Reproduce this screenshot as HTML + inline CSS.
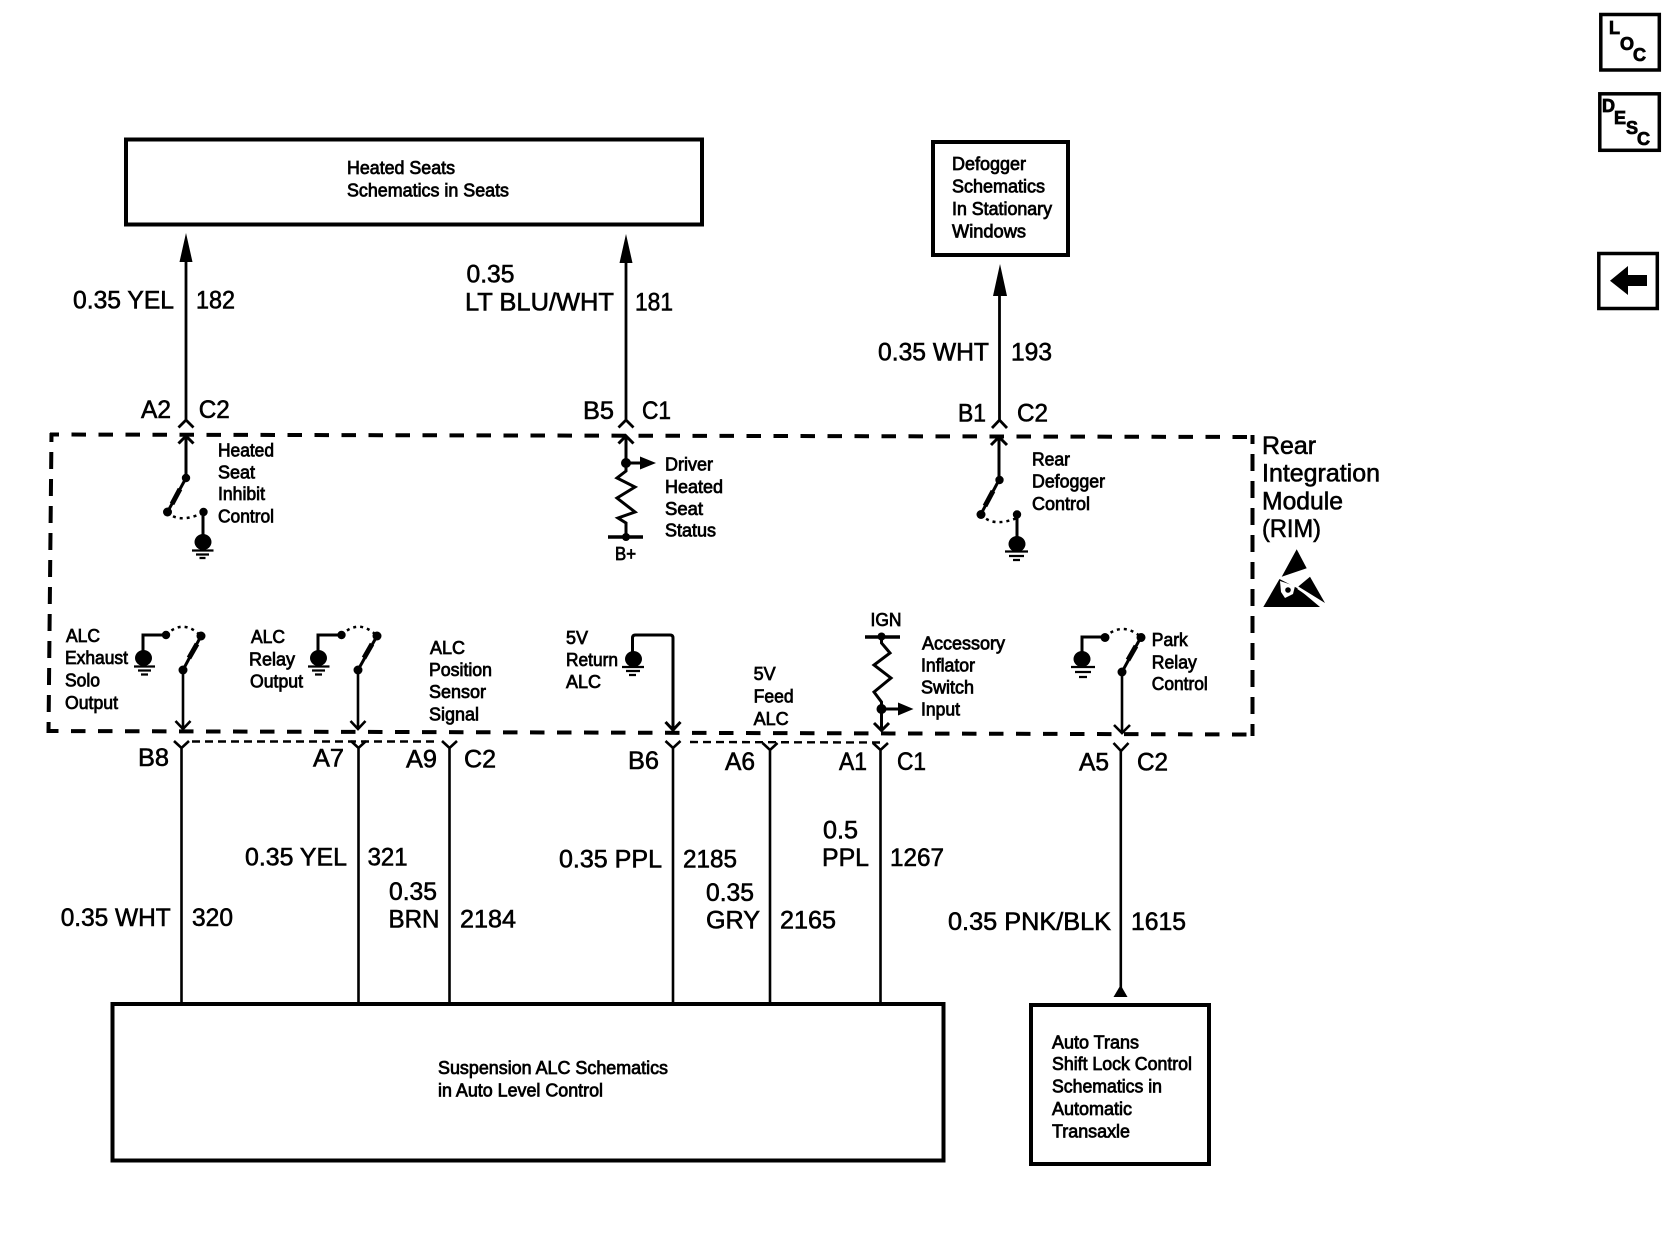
<!DOCTYPE html>
<html>
<head>
<meta charset="utf-8">
<style>
html,body{margin:0;padding:0;background:#fff;}
svg{display:block;}
text{font-family:"Liberation Sans",Arial,sans-serif;fill:#000;stroke:#000;}
.s{font-size:18px;stroke-width:.75;}
.b{font-size:25px;stroke-width:.6;}
.i{font-size:18px;font-weight:bold;stroke-width:.8;}
</style>
</head>
<body>
<svg xmlns="http://www.w3.org/2000/svg" width="1670" height="1248" viewBox="0 0 1670 1248">
<rect width="1670" height="1248" fill="#fff"/>

<!-- boxes -->
<g fill="none" stroke="#000" stroke-width="4">
<rect x="126" y="139.500" width="576" height="85"/>
<rect x="933" y="142" width="135" height="113"/>
<rect x="112.500" y="1004" width="831" height="156.500"/>
<rect x="1031" y="1005" width="178" height="159"/>
</g>

<!-- RIM dashed outline -->
<g fill="none" stroke="#000" stroke-width="4">
<path d="M50 434.500L1253 437" stroke-dasharray="14.500 12.500" stroke-dashoffset="5.500"/>
<path d="M49 731L1253 734.500" stroke-dasharray="14.500 12.500" stroke-dashoffset="5"/>
<path d="M51.500 433L48.500 733" stroke-dasharray="17 10" stroke-dashoffset="8"/>
<path d="M1252.500 435L1252.500 736" stroke-dasharray="17 10" stroke-dashoffset="8"/>
</g>
<g fill="none" stroke="#000" stroke-width="2.400" stroke-dasharray="8 5">
<path d="M192 741.500L436 741.500"/>
<path d="M690 742L880 742.500"/>
</g>

<!-- upper wires -->
<g fill="none" stroke="#000" stroke-width="2.800">
<path d="M186 258V421M178.500 427.500L186 420L193.500 427.500"/>
<path d="M626 259V421M618.500 427.500L626 420L633.500 427.500"/>
<path d="M999.500 292V421M992 428L999.500 420L1007 428"/>
</g>
<g fill="#000">
<path d="M186 233L179.500 262H192.500Z"/>
<path d="M626 234L619.500 263H632.500Z"/>
<path d="M1000 264L993 296H1007Z"/>
<path d="M1120.600 985L1113.500 997H1127.500Z"/>
</g>

<!-- lower wires -->
<g fill="none" stroke="#000" stroke-width="2.600">
<path d="M181.500 1003V747M174 741L181.500 748L189 741"/>
<path d="M358.500 1003V747M351 741L358.500 748L366 741"/>
<path d="M449.500 1003V747M442 741L449.500 748L457 741"/>
<path d="M673 1003V747M665.500 741L673 748L680.500 741"/>
<path d="M770 1003V749M762.500 743L770 750L777.500 743"/>
<path d="M880.500 1003V749M873 743L880.500 750L888 743"/>
<path d="M1120.800 990V750M1113.500 743L1121 751L1128.500 743"/>
</g>

<!-- Heated seat inhibit switch -->
<g fill="none" stroke="#000" stroke-width="3">
<path d="M186 478V437M178.500 443.500L186 436L193.500 443.500"/>
<path d="M186 478L167.500 512"/>
<path d="M180 489L172 504" stroke-width="5"/>
<path d="M203 512V537"/>
<path d="M192 550.500H213.500M196 554.500H209M199.500 558H205.500" stroke-width="2.200"/>
<path d="M167.500 512Q178 524 203 513" stroke-width="2.500" stroke-dasharray="3 4"/>
</g>
<g fill="#000">
<circle cx="186" cy="478" r="4.200"/><circle cx="167.500" cy="512" r="4.500"/><circle cx="203.500" cy="512" r="4.200"/>
<ellipse cx="203" cy="542" rx="8.500" ry="8"/>
</g>

<!-- Driver heated seat status -->
<g fill="none" stroke="#000" stroke-width="3">
<path d="M626 463V437M618.500 443.500L626 436L633.500 443.500"/>
<path d="M626 463V471L617 478L635 487L617 498L635 512L618 518L626 523V537"/>
<path d="M608 537H643" stroke-width="3.500"/>
<path d="M626 463H642"/>
</g>
<path d="M656 463L640 456.500V469.500Z" fill="#000"/>
<circle cx="626" cy="463" r="5" fill="#000"/><circle cx="626" cy="537" r="4" fill="#000"/>

<!-- Rear defogger control -->
<g fill="none" stroke="#000" stroke-width="3">
<path d="M999 480V438M991 445L999 437L1007 445"/>
<path d="M999 480L981 514"/>
<path d="M993 491L985 506" stroke-width="5"/>
<path d="M1017 514V539"/>
<path d="M1005 551.500H1028M1009 556H1024M1013 560H1020" stroke-width="2.200"/>
<path d="M981 514Q992 528 1017 518" stroke-width="2.500" stroke-dasharray="3 4"/>
</g>
<g fill="#000">
<circle cx="999.500" cy="480" r="4.200"/><circle cx="981" cy="514.500" r="4.500"/><circle cx="1017" cy="514.500" r="4.200"/>
<ellipse cx="1017" cy="544" rx="8.500" ry="8"/>
</g>

<!-- ALC exhaust -->
<g fill="none" stroke="#000" stroke-width="3">
<path d="M183 670V729M175.500 721L183 729L190.500 721" stroke-width="2.600"/>
<path d="M183 670L201 636"/>
<path d="M189 658L197 644" stroke-width="5"/>
<path d="M166 635H143V655"/>
<path d="M134 666.500H155M138 670.500H151M141 674.500H148" stroke-width="2.200"/>
<path d="M166 635Q183 618 201 636" stroke-width="2.500" stroke-dasharray="3 4"/>
</g>
<g fill="#000">
<circle cx="183" cy="670" r="4.500"/><circle cx="201" cy="636" r="4.500"/><circle cx="166" cy="635" r="4.200"/>
<ellipse cx="143.500" cy="658" rx="8.500" ry="8"/>
</g>

<!-- ALC relay -->
<g fill="none" stroke="#000" stroke-width="3">
<path d="M358 670V729M350.500 721L358 729L365.500 721" stroke-width="2.600"/>
<path d="M358 670L377 636"/>
<path d="M364 658L372 644" stroke-width="5"/>
<path d="M341.500 635H318V655"/>
<path d="M308 666.500H329.500M312 670.500H325M315 674.500H322" stroke-width="2.200"/>
<path d="M341.500 635Q359 618 377 636" stroke-width="2.500" stroke-dasharray="3 4"/>
</g>
<g fill="#000">
<circle cx="358" cy="670" r="4.500"/><circle cx="377" cy="636" r="4.500"/><circle cx="341.500" cy="635" r="4.200"/>
<ellipse cx="318.500" cy="658" rx="8.500" ry="8"/>
</g>

<!-- 5V return -->
<g fill="none" stroke="#000" stroke-width="3">
<path d="M632.500 655V638Q632.500 635 635.500 635H670Q673 635 673 638V731M665.500 722L673 730L680.500 722"/>
<path d="M622 667H644M626 671H640M629 675H636" stroke-width="2.200"/>
</g>
<ellipse cx="633.500" cy="659" rx="8.500" ry="8" fill="#000"/>

<!-- Accessory inflator -->
<g fill="none" stroke="#000" stroke-width="3">
<path d="M881.500 637V643L890 653L874 665L891 678L874 692L881.500 702V731M874 723L881.500 730.500L889 723"/>
<path d="M865 637H900" stroke-width="3.500"/>
<path d="M881.500 709H899"/>
</g>
<path d="M913.500 709L898 702.500V715.500Z" fill="#000"/>
<circle cx="881.500" cy="636.500" r="4" fill="#000"/><circle cx="881.500" cy="709" r="5" fill="#000"/>

<!-- Park relay -->
<g fill="none" stroke="#000" stroke-width="3">
<path d="M1122 672V733M1114 725L1122 733L1130 725" stroke-width="2.600"/>
<path d="M1122 672L1141 637"/>
<path d="M1128 660L1136 646" stroke-width="5"/>
<path d="M1105 637H1082V655"/>
<path d="M1071 667H1095M1075 672H1091M1079 677H1087" stroke-width="2.200"/>
<path d="M1105 637Q1122 621 1141 637" stroke-width="2.500" stroke-dasharray="3 4"/>
</g>
<g fill="#000">
<circle cx="1122" cy="672" r="4.500"/><circle cx="1141" cy="637.500" r="4.500"/><circle cx="1105" cy="637.500" r="4.500"/>
<ellipse cx="1082" cy="659" rx="8.500" ry="8"/>
</g>

<!-- ESD symbol -->
<g>
<path d="M1296.700 549.300L1306.700 568.300L1281.700 576.700Z" fill="#000"/>
<path d="M1263.300 607L1279.500 579L1298 588.500L1320 607Z" fill="#000"/>
<path d="M1310 576.700L1325 603L1298.300 586.500Z" fill="#000"/>
<path d="M1298 588L1323 605" stroke="#fff" stroke-width="2.500"/>
<path d="M1280 581L1295 586L1293 594L1285 598L1281 592Z" fill="#fff"/>
<circle cx="1288" cy="590" r="2.800" fill="#000"/>
</g>

<!-- small text -->
<g>
<text class="s" x="347" y="174" textLength="108" lengthAdjust="spacingAndGlyphs">Heated Seats</text>
<text class="s" x="347" y="196.700" textLength="162" lengthAdjust="spacingAndGlyphs">Schematics in Seats</text>
<text class="s" x="952" y="170" textLength="74" lengthAdjust="spacingAndGlyphs">Defogger</text>
<text class="s" x="952" y="192.700" textLength="93" lengthAdjust="spacingAndGlyphs">Schematics</text>
<text class="s" x="952" y="215" textLength="100" lengthAdjust="spacingAndGlyphs">In Stationary</text>
<text class="s" x="952" y="237.300" textLength="74" lengthAdjust="spacingAndGlyphs">Windows</text>

<text class="s" x="218" y="456.700" textLength="56" lengthAdjust="spacingAndGlyphs">Heated</text>
<text class="s" x="218" y="478.300" textLength="37" lengthAdjust="spacingAndGlyphs">Seat</text>
<text class="s" x="218" y="500" textLength="47" lengthAdjust="spacingAndGlyphs">Inhibit</text>
<text class="s" x="218" y="522.300" textLength="56" lengthAdjust="spacingAndGlyphs">Control</text>

<text class="s" x="665" y="470.700" textLength="48" lengthAdjust="spacingAndGlyphs">Driver</text>
<text class="s" x="665" y="493" textLength="58" lengthAdjust="spacingAndGlyphs">Heated</text>
<text class="s" x="665" y="515" textLength="38" lengthAdjust="spacingAndGlyphs">Seat</text>
<text class="s" x="665" y="536.700" textLength="51" lengthAdjust="spacingAndGlyphs">Status</text>
<text class="s" x="615" y="560" textLength="21" lengthAdjust="spacingAndGlyphs">B+</text>

<text class="s" x="1032" y="465.700" textLength="38" lengthAdjust="spacingAndGlyphs">Rear</text>
<text class="s" x="1032" y="487.700" textLength="73" lengthAdjust="spacingAndGlyphs">Defogger</text>
<text class="s" x="1032" y="510" textLength="58" lengthAdjust="spacingAndGlyphs">Control</text>

<text class="s" x="66" y="642" textLength="34" lengthAdjust="spacingAndGlyphs">ALC</text>
<text class="s" x="65" y="664" textLength="63" lengthAdjust="spacingAndGlyphs">Exhaust</text>
<text class="s" x="65" y="686.700" textLength="35" lengthAdjust="spacingAndGlyphs">Solo</text>
<text class="s" x="65" y="709" textLength="53" lengthAdjust="spacingAndGlyphs">Output</text>

<text class="s" x="251" y="643" textLength="34" lengthAdjust="spacingAndGlyphs">ALC</text>
<text class="s" x="249" y="665.700" textLength="46" lengthAdjust="spacingAndGlyphs">Relay</text>
<text class="s" x="250" y="687.700" textLength="53" lengthAdjust="spacingAndGlyphs">Output</text>

<text class="s" x="430" y="654" textLength="35" lengthAdjust="spacingAndGlyphs">ALC</text>
<text class="s" x="429" y="676" textLength="63" lengthAdjust="spacingAndGlyphs">Position</text>
<text class="s" x="429" y="698" textLength="57" lengthAdjust="spacingAndGlyphs">Sensor</text>
<text class="s" x="429" y="720.700" textLength="50" lengthAdjust="spacingAndGlyphs">Signal</text>

<text class="s" x="566" y="644" textLength="22" lengthAdjust="spacingAndGlyphs">5V</text>
<text class="s" x="566" y="666" textLength="52" lengthAdjust="spacingAndGlyphs">Return</text>
<text class="s" x="566" y="688" textLength="35" lengthAdjust="spacingAndGlyphs">ALC</text>

<text class="s" x="753.600" y="680" textLength="22" lengthAdjust="spacingAndGlyphs">5V</text>
<text class="s" x="753.600" y="702.700" textLength="40" lengthAdjust="spacingAndGlyphs">Feed</text>
<text class="s" x="753.600" y="725" textLength="35" lengthAdjust="spacingAndGlyphs">ALC</text>

<text class="s" x="870.500" y="626" textLength="31" lengthAdjust="spacingAndGlyphs">IGN</text>
<text class="s" x="922" y="649.300" textLength="83" lengthAdjust="spacingAndGlyphs">Accessory</text>
<text class="s" x="921" y="671.700" textLength="54" lengthAdjust="spacingAndGlyphs">Inflator</text>
<text class="s" x="921" y="693.300" textLength="53" lengthAdjust="spacingAndGlyphs">Switch</text>
<text class="s" x="921" y="715.700" textLength="39" lengthAdjust="spacingAndGlyphs">Input</text>

<text class="s" x="1151.800" y="646" textLength="36" lengthAdjust="spacingAndGlyphs">Park</text>
<text class="s" x="1151.800" y="668.300" textLength="45" lengthAdjust="spacingAndGlyphs">Relay</text>
<text class="s" x="1151.800" y="690" textLength="56" lengthAdjust="spacingAndGlyphs">Control</text>

<text class="s" x="438" y="1074" textLength="230" lengthAdjust="spacingAndGlyphs">Suspension ALC Schematics</text>
<text class="s" x="438" y="1096.700" textLength="165" lengthAdjust="spacingAndGlyphs">in Auto Level Control</text>

<text class="s" x="1052" y="1048.300" textLength="87" lengthAdjust="spacingAndGlyphs">Auto Trans</text>
<text class="s" x="1052" y="1070" textLength="140" lengthAdjust="spacingAndGlyphs">Shift Lock Control</text>
<text class="s" x="1052" y="1092.700" textLength="110" lengthAdjust="spacingAndGlyphs">Schematics in</text>
<text class="s" x="1052" y="1115" textLength="80" lengthAdjust="spacingAndGlyphs">Automatic</text>
<text class="s" x="1052" y="1137.300" textLength="78" lengthAdjust="spacingAndGlyphs">Transaxle</text>
</g>

<!-- large text -->
<g>
<text class="b" x="73" y="308.300" textLength="101" lengthAdjust="spacingAndGlyphs">0.35 YEL</text>
<text class="b" x="196" y="308.300" textLength="39" lengthAdjust="spacingAndGlyphs">182</text>
<text class="b" x="466.500" y="282.700" textLength="48" lengthAdjust="spacingAndGlyphs">0.35</text>
<text class="b" x="465" y="310.700" textLength="149" lengthAdjust="spacingAndGlyphs">LT BLU/WHT</text>
<text class="b" x="635" y="310.700" textLength="38" lengthAdjust="spacingAndGlyphs">181</text>
<text class="b" x="878" y="360.500" textLength="111" lengthAdjust="spacingAndGlyphs">0.35 WHT</text>
<text class="b" x="1011" y="360.500" textLength="41" lengthAdjust="spacingAndGlyphs">193</text>

<text class="b" x="141" y="418" textLength="30" lengthAdjust="spacingAndGlyphs">A2</text>
<text class="b" x="198.700" y="418" textLength="31" lengthAdjust="spacingAndGlyphs">C2</text>
<text class="b" x="583" y="419" textLength="31" lengthAdjust="spacingAndGlyphs">B5</text>
<text class="b" x="642" y="419" textLength="29" lengthAdjust="spacingAndGlyphs">C1</text>
<text class="b" x="958" y="421.700" textLength="28" lengthAdjust="spacingAndGlyphs">B1</text>
<text class="b" x="1017" y="421.700" textLength="31" lengthAdjust="spacingAndGlyphs">C2</text>

<text class="b" x="1262" y="454" textLength="54" lengthAdjust="spacingAndGlyphs">Rear</text>
<text class="b" x="1262" y="481.700" textLength="118" lengthAdjust="spacingAndGlyphs">Integration</text>
<text class="b" x="1262" y="509.300" textLength="81" lengthAdjust="spacingAndGlyphs">Module</text>
<text class="b" x="1262" y="537" textLength="59" lengthAdjust="spacingAndGlyphs">(RIM)</text>

<text class="b" x="138" y="766" textLength="31" lengthAdjust="spacingAndGlyphs">B8</text>
<text class="b" x="313" y="766.700" textLength="31" lengthAdjust="spacingAndGlyphs">A7</text>
<text class="b" x="406" y="767.700" textLength="31" lengthAdjust="spacingAndGlyphs">A9</text>
<text class="b" x="464" y="767.700" textLength="32" lengthAdjust="spacingAndGlyphs">C2</text>
<text class="b" x="628" y="769" textLength="31" lengthAdjust="spacingAndGlyphs">B6</text>
<text class="b" x="725" y="770" textLength="30" lengthAdjust="spacingAndGlyphs">A6</text>
<text class="b" x="839" y="770" textLength="28" lengthAdjust="spacingAndGlyphs">A1</text>
<text class="b" x="897" y="770" textLength="29" lengthAdjust="spacingAndGlyphs">C1</text>
<text class="b" x="1079" y="770.700" textLength="30" lengthAdjust="spacingAndGlyphs">A5</text>
<text class="b" x="1137" y="770.700" textLength="31" lengthAdjust="spacingAndGlyphs">C2</text>

<text class="b" x="60.700" y="926" textLength="110" lengthAdjust="spacingAndGlyphs">0.35 WHT</text>
<text class="b" x="192" y="926" textLength="41" lengthAdjust="spacingAndGlyphs">320</text>
<text class="b" x="245" y="865.300" textLength="102" lengthAdjust="spacingAndGlyphs">0.35 YEL</text>
<text class="b" x="367.600" y="865.300" textLength="40" lengthAdjust="spacingAndGlyphs">321</text>
<text class="b" x="389" y="900" textLength="48" lengthAdjust="spacingAndGlyphs">0.35</text>
<text class="b" x="388.500" y="927.300" textLength="51" lengthAdjust="spacingAndGlyphs">BRN</text>
<text class="b" x="460" y="927.300" textLength="56" lengthAdjust="spacingAndGlyphs">2184</text>
<text class="b" x="559" y="867.700" textLength="103" lengthAdjust="spacingAndGlyphs">0.35 PPL</text>
<text class="b" x="683" y="867.700" textLength="54" lengthAdjust="spacingAndGlyphs">2185</text>
<text class="b" x="823" y="838.300" textLength="35" lengthAdjust="spacingAndGlyphs">0.5</text>
<text class="b" x="822" y="866" textLength="47" lengthAdjust="spacingAndGlyphs">PPL</text>
<text class="b" x="890" y="866" textLength="54" lengthAdjust="spacingAndGlyphs">1267</text>
<text class="b" x="706" y="901" textLength="48" lengthAdjust="spacingAndGlyphs">0.35</text>
<text class="b" x="706" y="928.300" textLength="54" lengthAdjust="spacingAndGlyphs">GRY</text>
<text class="b" x="780" y="928.300" textLength="56" lengthAdjust="spacingAndGlyphs">2165</text>
<text class="b" x="948" y="930" textLength="163" lengthAdjust="spacingAndGlyphs">0.35 PNK/BLK</text>
<text class="b" x="1131" y="930" textLength="55" lengthAdjust="spacingAndGlyphs">1615</text>
</g>

<!-- side icons -->
<g fill="none" stroke="#000" stroke-width="3.500">
<rect x="1600.800" y="14.500" width="58.500" height="55.500"/>
<rect x="1599.800" y="93.800" width="59.500" height="56.500"/>
<rect x="1598.800" y="253.500" width="58.500" height="55"/>
</g>
<text class="i" x="1609" y="34">L</text>
<text class="i" x="1620" y="50">O</text>
<text class="i" x="1633" y="61">C</text>
<text class="i" x="1602" y="112">D</text>
<text class="i" x="1614" y="124">E</text>
<text class="i" x="1626" y="134">S</text>
<text class="i" x="1637" y="145">C</text>
<path d="M1610 280.700L1628 266V275H1647V286H1628V295Z" fill="#000"/>
</svg>
</body>
</html>
